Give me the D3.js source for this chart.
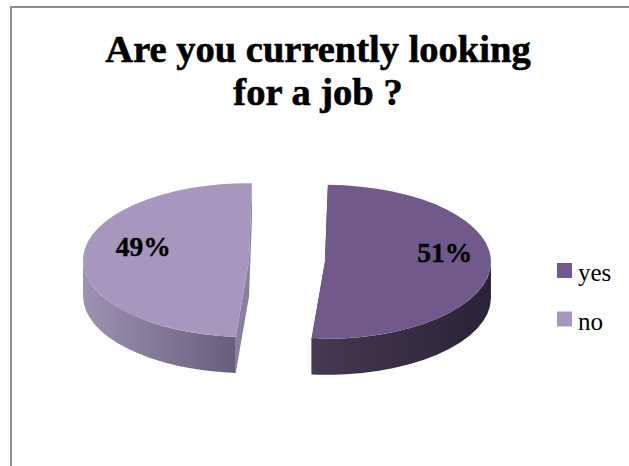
<!DOCTYPE html>
<html>
<head>
<meta charset="utf-8">
<script src="https://cdn.jsdelivr.net/npm/d3@7"></script>
<style>
  html, body { margin: 0; padding: 0; background: #fff; }
  svg { display: block; }
</style>
</head>
<body>
<svg id="chart" width="629" height="466"></svg>
<script>
// chart data
const categories = ["yes", "no"];
const values = [51, 49];
const labels = ["51%", "49%"];
const titleLines = ["Are you currently looking", "for a job ?"];

// colours per slice
const colors = {
  top:   { yes: "#715a8b", no: "#a797be" },
  wallL: { yes: "#463953", no: "#9d92b1" },
  wallR: { yes: "#2a2237", no: "#675d7c" },
  cut:   { yes: "#3a2f48", no: "#8a7fa0" }
};

const width = 629, height = 466;
const svg = d3.select("#chart");
const defs = svg.append("defs");

// frame of the chart area
svg.append("rect")
  .attr("x", 11).attr("y", 7)
  .attr("width", width + 20).attr("height", height + 20)
  .attr("fill", "none")
  .attr("stroke", "#8e8e8e")
  .attr("stroke-width", 2);

// title
const title = svg.append("text")
  .attr("text-anchor", "middle")
  .attr("font-family", "'Liberation Serif', serif")
  .attr("font-weight", "bold")
  .attr("font-size", 38.5)
  .attr("fill", "#000")
  .attr("stroke", "#000")
  .attr("stroke-width", 0.6);
titleLines.forEach((t, i) => {
  title.append("tspan").attr("x", 318).attr("y", 62 + i * 43).text(t);
});

// 3D pie geometry
const cx = 287, cy = 261, rx = 166, ry = 77, depth = 36, explode = 38;
const startA = 1 * Math.PI / 180;

const pie = d3.pie().sort(null).startAngle(startA).endAngle(startA + 2 * Math.PI);
const arcs = pie(values).map((d, i) => {
  const mid = (d.startAngle + d.endAngle) / 2;
  return Object.assign(d, {
    key: categories[i],
    label: labels[i],
    mid: mid,
    ox: cx + explode * Math.sin(mid),
    oy: cy - explode * Math.cos(mid) * ry / rx
  });
});

function pt(d, a, dy = 0) {
  return [d.ox + rx * Math.sin(a), d.oy - ry * Math.cos(a) + dy];
}

function topPath(d) {
  const a = pt(d, d.startAngle), b = pt(d, d.endAngle);
  const large = d.endAngle - d.startAngle > Math.PI ? 1 : 0;
  return `M${d.ox},${d.oy}L${a}A${rx},${ry} 0 ${large} 1 ${b}Z`;
}

function wallPath(d) {
  const s = Math.max(d.startAngle, Math.PI / 2);
  const e = Math.min(d.endAngle, 3 * Math.PI / 2);
  if (e <= s) return null;
  const a = pt(d, s), b = pt(d, e), b2 = pt(d, e, depth), a2 = pt(d, s, depth);
  return `M${a}A${rx},${ry} 0 0 1 ${b}L${b2}A${rx},${ry} 0 0 0 ${a2}Z`;
}

function cutPath(d, ang) {
  const p = d3.path();
  const q = pt(d, ang);
  p.moveTo(d.ox, d.oy);
  p.lineTo(q[0], q[1]);
  p.lineTo(q[0], q[1] + depth);
  p.lineTo(d.ox, d.oy + depth);
  p.closePath();
  return p.toString();
}

// gradients for the side walls
arcs.forEach(d => {
  const g = defs.append("linearGradient").attr("id", "wall-" + d.key)
    .attr("x1", 0).attr("y1", 0).attr("x2", 1).attr("y2", 0);
  g.append("stop").attr("offset", "0%").attr("stop-color", colors.wallL[d.key]);
  g.append("stop").attr("offset", "100%").attr("stop-color", colors.wallR[d.key]);
});

const pieG = svg.append("g");

// cut faces
arcs.forEach(d => {
  [d.startAngle, d.endAngle].forEach(a => {
    pieG.append("path").attr("d", cutPath(d, a)).attr("fill", colors.cut[d.key]);
  });
});

// outer walls
arcs.forEach(d => {
  const w = wallPath(d);
  if (w) pieG.append("path").attr("d", w).attr("fill", `url(#wall-${d.key})`);
});

// top faces
pieG.selectAll("path.top")
  .data(arcs)
  .enter().append("path")
  .attr("class", "top")
  .attr("d", topPath)
  .attr("fill", d => colors.top[d.key]);

// data labels
const labelShift = 7;
pieG.selectAll("text.lbl")
  .data(arcs)
  .enter().append("text")
  .attr("class", "lbl")
  .attr("x", d => d.ox + 0.68 * rx * Math.sin(d.mid) + labelShift)
  .attr("y", d => d.oy - 0.68 * ry * Math.cos(d.mid) - 0.15 * ry)
  .attr("dy", "0.35em")
  .attr("text-anchor", "middle")
  .attr("font-family", "'Liberation Serif', serif")
  .attr("font-weight", "bold")
  .attr("font-size", 27.5)
  .attr("stroke", "#000")
  .attr("stroke-width", 0.4)
  .text(d => d.label);

// legend
const legend = svg.append("g").attr("transform", "translate(557,263)");
categories.forEach((c, i) => {
  const row = legend.append("g").attr("transform", `translate(0,${i * 48.5})`);
  row.append("rect").attr("width", 15).attr("height", 15).attr("fill", colors.top[c]);
  row.append("text")
    .attr("x", 21).attr("y", 18)
    .attr("font-family", "'Liberation Serif', serif")
    .attr("font-size", 25)
    .text(c);
});
</script>
</body>
</html>
